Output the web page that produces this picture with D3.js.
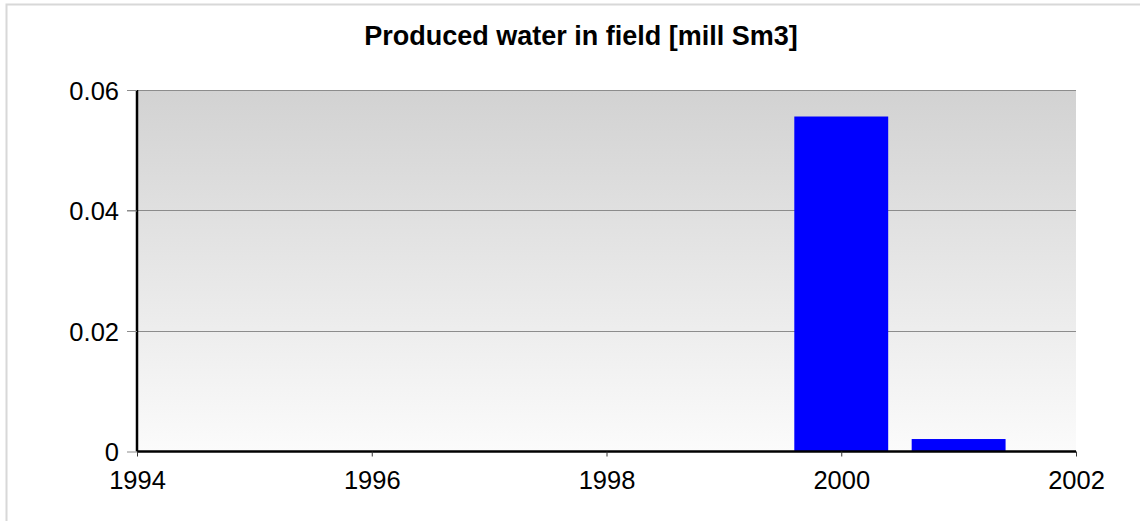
<!DOCTYPE html>
<html>
<head>
<meta charset="utf-8">
<script src="https://cdn.jsdelivr.net/npm/d3@7"></script>
<style>
  html, body { margin: 0; padding: 0; background: #fff; }
  svg { display: block; font-family: "Liberation Sans", Arial, sans-serif; }
</style>
</head>
<body>
<script>
// Data
const years = [2000, 2001];
const water = [0.0556, 0.00207]; // mill Sm3
const yTicks = [0, 0.02, 0.04, 0.06];
const xTicks = [1994, 1996, 1998, 2000, 2002];
const title = "Produced water in field [mill Sm3]";

const width = 1140, height = 521;
const marginTop = 90, marginRight = 64, marginBottom = 69.5, marginLeft = 137;

const x = d3.scaleLinear([1994, 2002], [marginLeft, width - marginRight]);
const y = d3.scaleLinear([0, 0.06], [height - marginBottom, marginTop]);

const svg = d3.select("body").append("svg")
  .attr("width", width)
  .attr("height", height)
  .attr("viewBox", [0, 0, width, height]);

// gradient background of the plot area
const grad = svg.append("defs").append("linearGradient")
  .attr("id", "bg")
  .attr("x1", 0).attr("y1", 0).attr("x2", 0).attr("y2", 1);
grad.append("stop").attr("offset", "0%").attr("stop-color", "#d2d2d2");
grad.append("stop").attr("offset", "100%").attr("stop-color", "#fbfbfb");

// outer frame
svg.append("rect")
  .attr("x", 6.5).attr("y", 4.5)
  .attr("width", width + 10).attr("height", height + 10)
  .attr("fill", "none")
  .attr("stroke", "#d8d8d8")
  .attr("stroke-width", 2);

svg.append("rect")
  .attr("x", x(1994)).attr("y", y(0.06))
  .attr("width", x(2002) - x(1994))
  .attr("height", y(0) - y(0.06))
  .attr("fill", "url(#bg)");

// gridlines
svg.append("g")
  .selectAll("line")
  .data(yTicks.filter(d => d > 0))
  .join("line")
  .attr("x1", x(1994) - 10)
  .attr("x2", x(2002))
  .attr("y1", d => Math.round(y(d)) + 0.5)
  .attr("y2", d => Math.round(y(d)) + 0.5)
  .attr("stroke", "#8c8c8c")
  .attr("stroke-width", 1.2);

// bars
svg.append("g")
  .selectAll("rect")
  .data(years)
  .join("rect")
  .attr("x", d => x(d - 0.4))
  .attr("width", d => x(d + 0.4) - x(d - 0.4))
  .attr("y", (d, i) => y(water[i]))
  .attr("height", (d, i) => y(0) - y(water[i]))
  .attr("fill", "#0000ff");

// y axis
const yAxis = d3.axisLeft(y).tickValues(yTicks)
  .tickFormat(d => d === 0 ? "0" : d3.format(".2f")(d))
  .tickSize(10).tickPadding(8);
svg.append("g")
  .attr("transform", `translate(${x(1994)},0)`)
  .call(yAxis)
  .call(g => g.select(".domain").attr("stroke", "#000").attr("stroke-width", 2.5).attr("d", `M0,${y(0.06)}V${y(0)}`))
  .call(g => g.selectAll(".tick line").attr("stroke", "#8c8c8c"))
  .call(g => g.selectAll(".tick text")
    .attr("font-family", "Liberation Sans, Arial, sans-serif")
    .attr("font-size", 25.5).attr("fill", "#000").attr("dy", "0.36em"));

// x axis
const xAxis = d3.axisBottom(x).tickValues(xTicks)
  .tickFormat(d3.format("d"))
  .tickSize(5).tickPadding(14);
svg.append("g")
  .attr("transform", `translate(0,${y(0)})`)
  .call(xAxis)
  .call(g => g.select(".domain").attr("stroke", "#000").attr("stroke-width", 2.5).attr("d", `M${x(1994)},0H${x(2002)}`))
  .call(g => g.selectAll(".tick line").attr("stroke", "#333"))
  .call(g => g.selectAll(".tick text")
    .attr("font-family", "Liberation Sans, Arial, sans-serif")
    .attr("font-size", 25.5).attr("fill", "#000"));

// title
svg.append("text")
  .attr("x", 581)
  .attr("y", 45)
  .attr("text-anchor", "middle")
  .attr("font-size", 27)
  .attr("font-weight", "bold")
  .attr("fill", "#000")
  .text(title);
</script>
</body>
</html>
